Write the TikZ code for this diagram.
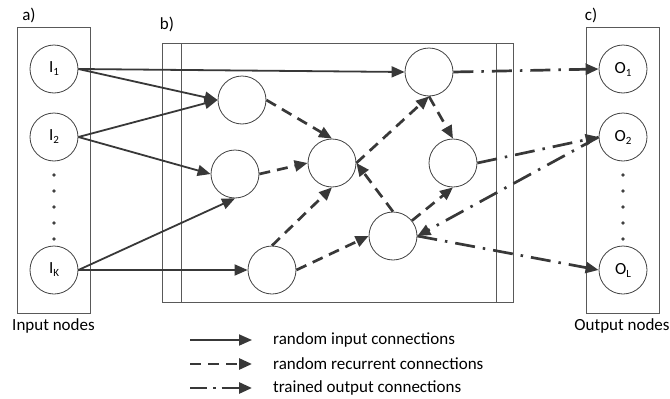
\documentclass[tikz,border=0pt]{standalone}
\usepackage{fontspec}
\setmainfont{Carlito}
\usetikzlibrary{arrows.meta}
\newcommand{\sbs}[1]{\raisebox{-3pt}{\fontsize{11}{11}\selectfont #1}}
\begin{document}
\begin{tikzpicture}[x=1pt,y=-1pt,
  neuron/.style={circle, draw=black!75, line width=0.8pt, minimum size=48pt, inner sep=0pt, font=\fontsize{17}{17}\selectfont},
  boxline/.style={draw=black!65, line width=0.8pt},
  lbl/.style={inner sep=0pt, font=\fontsize{17}{17}\selectfont},
  dotmark/.style={fill=black!75},
  inarr/.style={draw=black!78, line width=1.8pt, -{Triangle[length=13pt,width=11pt]}},
  recarr/.style={draw=black!78, line width=2.7pt, dash pattern=on 11pt off 7pt, -{Triangle[length=13pt,width=11pt]}},
  outarr/.style={draw=black!78, line width=2.7pt, dash pattern=on 20pt off 8pt on 2.5pt off 8pt, -{Triangle[length=13pt,width=11pt]}}
]
\useasboundingbox (0,0) rectangle (670,399);
% boxes
\draw[boxline] (17,27) rectangle (90,313);
\draw[boxline] (162,43) rectangle (513,302);
\draw[boxline] (181,43) -- (181,302);
\draw[boxline] (496,43) -- (496,302);
\draw[boxline] (586,27) rectangle (659,313);
% labels
\node[lbl] (la) at (29,15) {a)};
\node[lbl] (lb) at (167,24) {b)};
\node[lbl] (lc) at (591,15) {c)};
\node[lbl] (lin) at (53.5,326) {Input nodes};
\node[lbl] (lout) at (622,326) {Output nodes};
% input nodes
\node[neuron] (I1) at (54,69) {I\sbs{1}};
\node[neuron] (I2) at (54,137) {I\sbs{2}};
\node[neuron] (IK) at (54,270) {I\sbs{K}};
\foreach \yy in {175,191,207,223,239} {\fill[dotmark] (54,\yy) circle (1.8pt);}
% output nodes
\node[neuron] (O1) at (623,69) {O\sbs{1}};
\node[neuron] (O2) at (623,137) {O\sbs{2}};
\node[neuron] (OL) at (623,270) {O\sbs{L}};
\foreach \yy in {175,191,207,223,239} {\fill[dotmark] (623,\yy) circle (1.8pt);}
% reservoir
\node[neuron] (R1) at (242,100) {};
\node[neuron] (R2) at (235,174) {};
\node[neuron] (R3) at (332,163) {};
\node[neuron] (R4) at (272,270) {};
\node[neuron] (R5) at (393,236) {};
\node[neuron] (R6) at (429,72) {};
\node[neuron] (R7) at (453,163) {};
% input connections
\draw[inarr] (I1.east) -- (R6.west);
\draw[inarr] (I1.east) -- (R1.west);
\draw[inarr] (I2.east) -- (R1.west);
\draw[inarr] (I2.east) -- (R2.west);
\draw[inarr] (IK.east) -- (R2.south);
\draw[inarr] (IK.east) -- (R4.west);
% recurrent connections
\draw[recarr] (R1.east) -- (R3.north);
\draw[recarr] (R2.east) -- (R3.west);
\draw[recarr] (R4.north) -- (R3.south);
\draw[recarr] (R4.east) -- (R5.west);
\draw[recarr] (R3.east) -- (R6.south);
\draw[recarr] (R5.north) -- (R3.east);
\draw[recarr] (R6.south) -- (R7.north);
\draw[recarr] (R5) -- (R7.south);
% output connections
\draw[outarr] (R6.east) -- (O1.west);
\draw[outarr] (R7.east) -- (O2.west);
\draw[outarr] (O2.west) -- (R5.east);
\draw[outarr] (R5.east) -- (OL.west);
% legend
\coordinate (ls1) at (190,340); \coordinate (le1) at (252,340);
\coordinate (ls2) at (190,364); \coordinate (le2) at (252,364);
\coordinate (ls3) at (190,388); \coordinate (le3) at (252,388);
\draw[inarr] (ls1) -- (le1);
\draw[recarr] (ls2) -- (le2);
\draw[outarr, dash pattern=on 17pt off 6pt on 2.5pt off 6pt] (ls3) -- (le3);
\node[lbl, anchor=west] (t1) at (273,340) {random input connections};
\node[lbl, anchor=west] (t2) at (273,364) {random recurrent connections};
\node[lbl, anchor=west] (t3) at (273,388) {trained output connections};
\end{tikzpicture}
\end{document}
